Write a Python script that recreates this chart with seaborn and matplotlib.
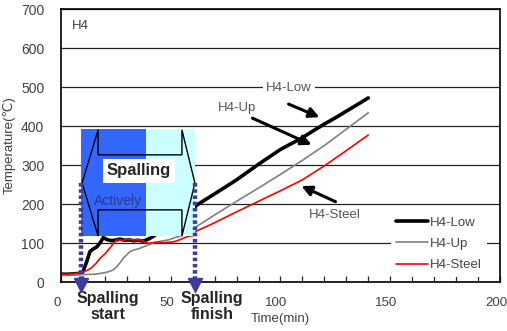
import matplotlib
matplotlib.use("Agg")
import matplotlib.pyplot as plt
import matplotlib.patches as mpatches
from matplotlib.transforms import ScaledTranslation
import seaborn as sns
import pandas as pd

# H4 data
low_time = [0, 3, 6, 8, 10, 11.7, 13.2, 14.5, 16.3, 18, 19.3, 20.5, 21.5, 23, 25.4, 26.9,
            29, 31, 33, 35, 37.5, 39, 40.5, 42.8, 45, 50, 55, 59, 61.8,
            66, 70, 75, 80, 85, 90, 95, 100, 105, 110, 115, 120, 125, 130, 135, 140]
low_temp = [20, 20, 21, 22, 26, 52, 78, 84, 90, 102, 114, 110, 108, 106, 108, 110,
            107, 108, 106, 107, 105, 108, 112, 120, 128, 148, 166, 180, 197,
            212, 226, 244, 262, 282, 302, 321, 340, 355, 370, 388, 405, 421, 438, 455, 472]

up_time = [0, 5, 10, 15.5, 20, 21.5, 23.8, 25.4, 27, 28.4, 30, 31.4, 33.7, 35.2, 37, 39, 41,
           42.8, 45, 48.9, 51.9, 54, 55.7, 58, 61, 62,
           70, 80, 90, 100, 110, 120, 130, 140]
up_temp = [17, 18, 19, 20, 24, 26, 31, 39, 50, 61, 70, 78, 83, 85, 89, 93, 98,
           102, 104, 108, 114, 117, 120, 128, 140, 143,
           172, 207, 241, 276, 312, 350, 392, 434]

steel_time = [0, 3, 6.4, 10.2, 12, 14, 16, 17.8, 20, 21.5, 23, 23.8, 25.4, 28, 30, 33, 35,
              36.8, 38, 39.8, 42, 44.3, 47, 51.2, 53, 55.7, 58, 60, 61.5,
              70, 80, 90, 100, 110, 120, 130, 140]
steel_temp = [20, 20, 22, 26, 30, 37, 48, 61, 72, 82, 92, 99, 108, 107, 109, 108, 108,
              108, 103, 99, 101, 102, 101, 103, 106, 112, 117, 119, 130,
              152, 180, 207, 234, 262, 298, 337, 377]

series_names = ["H4-Low", "H4-Up", "H4-Steel"]
series_colors = ["black", "#808080", "red"]
series_widths = [2.6, 1.2, 1.2]

sns.set_style("white")
plt.rcParams['font.family'] = ['Liberation Sans', 'DejaVu Sans', 'Noto Sans CJK KR']

fig = plt.figure(figsize=(5.07, 3.31), dpi=100)
ax = fig.add_axes([0.1203, 0.148, 0.8659, 0.8248])

frames = [pd.DataFrame({"t": low_time, "T": low_temp}),
          pd.DataFrame({"t": up_time, "T": up_temp}),
          pd.DataFrame({"t": steel_time, "T": steel_temp})]
for df, name, c, w in zip(frames, series_names, series_colors, series_widths):
    sns.lineplot(data=df, x="t", y="T", ax=ax, color=c, lw=w, label=name,
                 sort=False, estimator=None, zorder=2)

ax.set_xlim(0, 200)
ax.set_ylim(0, 700)
ax.set_xticks(range(0, 201, 50))
ax.set_xticks(range(0, 201, 10), minor=True)
ax.set_yticks(range(0, 701, 100))
ax.tick_params(axis='x', which='both', direction='in', length=4, width=0.9,
               pad=11, labelsize=9.5, labelcolor='#404040', bottom=True)
ax.tick_params(axis='y', length=0, pad=12, labelsize=10, labelcolor='#404040')
shift = ScaledTranslation(-4 / 100, 0, fig.dpi_scale_trans)
for lbl in ax.get_xticklabels():
    lbl.set_transform(lbl.get_transform() + shift)
ax.yaxis.grid(True, color='#222222', lw=0.9, zorder=0)
ax.set_axisbelow(True)
for s in ax.spines.values():
    s.set_color('black')
    s.set_linewidth(1.2)
ax.set_xlabel("Time(min)", fontsize=9.5, color='#404040', labelpad=3)
ax.set_ylabel("Temperature(℃)", fontsize=9.5, color='#404040', labelpad=4)

# spalling region
ax.add_patch(mpatches.Rectangle((9.1, 118), 29.6, 274, color='#3366ff', zorder=3, lw=0))
ax.add_patch(mpatches.Rectangle((38.7, 118), 22.3, 274, color='#ccffff', zorder=3, lw=0))
hexagon = [(9.6, 254), (16.9, 390), (16.9, 326), (55.1, 326), (55.1, 390), (61.0, 254),
           (55.1, 118), (55.1, 185), (16.9, 185), (16.9, 118)]
ax.add_patch(mpatches.Polygon(hexagon, closed=True, fill=False, ec='black', lw=1.0, zorder=4))
ax.text(35.5, 285, "Spalling", ha='center', va='center', fontsize=12, fontweight='bold',
        zorder=5, bbox=dict(fc='white', ec='none', pad=3))
ax.text(26, 208, "Actively", ha='center', va='center', fontsize=10, color='#2b3a8a', zorder=5)

arrow_color = '#3c3c9c'
for x in [9.1, 61.0]:
    ax.plot([x, x], [254, -4], color=arrow_color, lw=3.2, ls=(0, (0.8, 0.6)),
            clip_on=False, zorder=6)
    ax.plot([x], [-8], marker='v', ms=9.5, color=arrow_color, clip_on=False, zorder=6)

ax.text(21.4, -63, "Spalling\nstart", ha='center', va='center', fontsize=11.5,
        fontweight='bold', linespacing=1.15)
ax.text(68.8, -63, "Spalling\nfinish", ha='center', va='center', fontsize=11.5,
        fontweight='bold', linespacing=1.15)

ax.text(5, 656, "H4", fontsize=9.5, color='#404040', va='center')

label_box = dict(fc='white', ec='none', pad=2)
ax.text(103.9, 497, "H4-Low", ha='center', va='center', fontsize=9.5, color='#555555',
        bbox=label_box, zorder=4)
ax.text(80.2, 446, "H4-Up", ha='center', va='center', fontsize=9.5, color='#555555', zorder=4)
ax.text(124.8, 172, "H4-Steel", ha='center', va='center', fontsize=9.5, color='#555555',
        bbox=label_box, zorder=4)

arrow_kw = dict(arrowstyle='-|>', color='black', lw=2.2, mutation_scale=15)
ax.annotate("", xy=(118.9, 420), xytext=(102.5, 459), arrowprops=arrow_kw, zorder=5)
ax.annotate("", xy=(115.3, 349), xytext=(86.1, 423), arrowprops=arrow_kw, zorder=5)
ax.annotate("", xy=(108.4, 249), xytext=(126.2, 203), arrowprops=arrow_kw, zorder=5)

leg = ax.legend(loc='lower left', bbox_to_anchor=(0.752, 0.02), frameon=True,
                fontsize=9.5, handlelength=2.4, handletextpad=0.15, labelspacing=0.68,
                borderpad=0.4, borderaxespad=0)
leg.get_frame().set_facecolor('white')
leg.get_frame().set_edgecolor('none')
leg.get_frame().set_alpha(1)
leg.set_zorder(5)
for t in leg.get_texts():
    t.set_color('#444444')

fig.savefig("out.png", dpi=100)
